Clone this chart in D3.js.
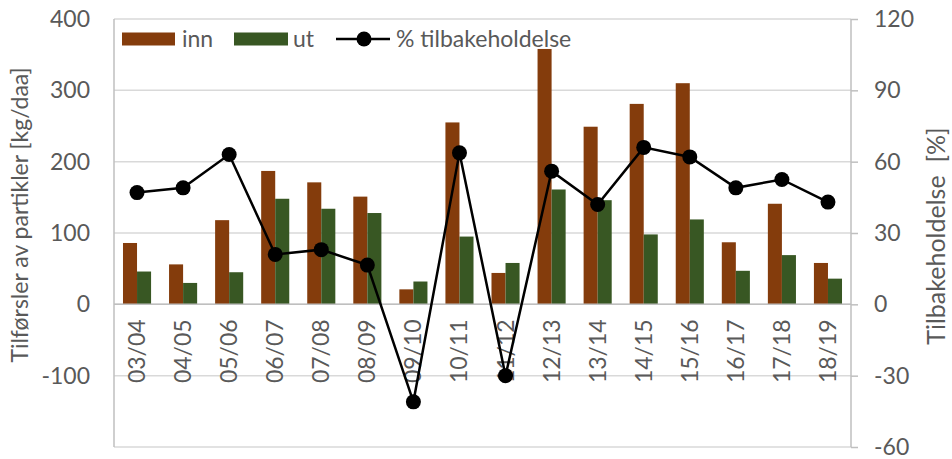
<!DOCTYPE html>
<html>
<head>
<meta charset="utf-8">
<script src="https://cdn.jsdelivr.net/npm/d3@7"></script>
<style>
  html, body { margin: 0; padding: 0; background: #fff; }
  svg { display: block; font-family: Lato, "Open Sans", sans-serif; }
</style>
</head>
<body>
<svg id="chart" width="952" height="459"></svg>
<script>
// Sesonger (hydrologiske år)
const categories = ["03/04","04/05","05/06","06/07","07/08","08/09","09/10","10/11",
                    "11/12","12/13","13/14","14/15","15/16","16/17","17/18","18/19"];
// Tilførsler av partikler, kg/daa
const inn = [86, 56, 118, 187, 171, 151, 21, 255, 44, 358, 249, 281, 310, 87, 141, 58];
const ut  = [46, 30, 45, 148, 134, 128, 32, 95, 58, 161, 146, 98, 119, 47, 69, 36];
// Tilbakeholdelse, %
const tilbakeholdelse = [47, 49, 63, 21, 23, 16.5, -41, 63.7, -30, 56, 42, 66, 62, 49, 52.5, 43];

const leftTicks  = [400, 300, 200, 100, 0, -100];
const gridValues = [400, 300, 200, 100, 0, -100, -200];
const rightTicks = [120, 90, 60, 30, 0, -30, -60];

const seriesNames = ["inn", "ut"];
const seriesValues = { inn: inn, ut: ut };
const colors = { inn: "#843C0C", ut: "#385723" };

const svg = d3.select("#chart");
const plot = { left: 114, right: 851, top: 19, bottom: 447 };
const textColor = "#595959";
const fontSize = 23;
const fontFamily = "Lato, 'Open Sans', sans-serif";
const fmt = d => String(d);   // vanlig bindestrek som minustegn

const x = d3.scaleBand().domain(categories).range([plot.left, plot.right]).padding(0);
const x1 = d3.scaleBand().domain(seriesNames).range([0, x.bandwidth()])
  .paddingInner(0).paddingOuter(0.64);
const yL = d3.scaleLinear().domain([-200, 400]).range([plot.bottom, plot.top]);
const yR = d3.scaleLinear().domain([-60, 120]).range([plot.bottom, plot.top]);

function styleText(sel) {
  sel.attr("fill", textColor).style("font-size", fontSize + "px").style("font-family", fontFamily);
}

// Rutenett
svg.append("g").selectAll("line").data(gridValues).join("line")
  .attr("x1", plot.left).attr("x2", plot.right)
  .attr("y1", d => yL(d)).attr("y2", d => yL(d))
  .attr("stroke", "#D9D9D9").attr("stroke-width", 1.5);

// Venstre akse
const gL = svg.append("g").attr("transform", `translate(${plot.left},0)`)
  .call(d3.axisLeft(yL).tickValues(leftTicks).tickFormat(fmt).tickSize(0).tickPadding(24));
gL.select(".domain").remove();
gL.selectAll("text").call(styleText);
svg.append("line").attr("x1", plot.left).attr("x2", plot.left)
  .attr("y1", plot.top).attr("y2", plot.bottom)
  .attr("stroke", "#BFBFBF").attr("stroke-width", 1.5);

// Høyre akse
const gR = svg.append("g").attr("transform", `translate(${plot.right},0)`)
  .call(d3.axisRight(yR).tickValues(rightTicks).tickFormat(fmt).tickSize(7).tickPadding(16));
gR.select(".domain").attr("stroke", "#BFBFBF").attr("stroke-width", 1.5)
  .attr("d", `M0,${plot.top}V${plot.bottom}`);
gR.selectAll(".tick line").attr("stroke", "#BFBFBF").attr("stroke-width", 1.5);
gR.selectAll("text").call(styleText);

// Søyler
const groups = svg.append("g").selectAll("g").data(categories).join("g")
  .attr("transform", d => `translate(${x(d)},0)`);
groups.selectAll("rect")
  .data((d, i) => seriesNames.map(s => ({ s, v: seriesValues[s][i] })))
  .join("rect")
  .attr("x", d => x1(d.s))
  .attr("width", x1.bandwidth())
  .attr("y", d => yL(Math.max(0, d.v)))
  .attr("height", d => Math.abs(yL(d.v) - yL(0)))
  .attr("fill", d => colors[d.s]);

// Kategoriakse (null-linje)
svg.append("line").attr("x1", plot.left).attr("x2", plot.right)
  .attr("y1", yL(0)).attr("y2", yL(0))
  .attr("stroke", "#BFBFBF").attr("stroke-width", 1.5);

// Kategorietiketter
svg.append("g").selectAll("text").data(categories).join("text")
  .attr("transform", d => `translate(${x(d) + x.bandwidth() / 2 + 8},${yL(0) + 15}) rotate(-90)`)
  .attr("text-anchor", "end")
  .call(styleText)
  .text(d => d);

// Linje for tilbakeholdelse
const cx = (d, i) => x(categories[i]) + x.bandwidth() / 2;
const line = d3.line().x(cx).y(d => yR(d));
svg.append("path").datum(tilbakeholdelse)
  .attr("d", line).attr("fill", "none")
  .attr("stroke", "#000").attr("stroke-width", 2.5);
svg.append("g").selectAll("circle").data(tilbakeholdelse).join("circle")
  .attr("cx", cx).attr("cy", d => yR(d)).attr("r", 7.5).attr("fill", "#000");

// Tegnforklaring
const lg = svg.append("g");
const legendY = 39;
lg.append("rect").attr("x", 122).attr("y", legendY - 6.5).attr("width", 53).attr("height", 13)
  .attr("fill", colors.inn);
lg.append("text").attr("x", 182).attr("y", legendY).attr("dy", "0.35em")
  .call(styleText).text("inn");
lg.append("rect").attr("x", 234).attr("y", legendY - 6.5).attr("width", 54).attr("height", 13)
  .attr("fill", colors.ut);
lg.append("text").attr("x", 293).attr("y", legendY).attr("dy", "0.35em")
  .call(styleText).text("ut");
lg.append("line").attr("x1", 336).attr("x2", 390).attr("y1", legendY).attr("y2", legendY)
  .attr("stroke", "#000").attr("stroke-width", 2.5);
lg.append("circle").attr("cx", 364).attr("cy", legendY).attr("r", 7.5).attr("fill", "#000");
lg.append("text").attr("x", 396).attr("y", legendY).attr("dy", "0.35em")
  .call(styleText).text("% tilbakeholdelse");

// Aksetitler
svg.append("text")
  .attr("transform", `translate(20,215) rotate(-90)`)
  .attr("text-anchor", "middle").attr("dy", "0.35em")
  .call(styleText)
  .text("Tilførsler av partikler [kg/daa]");
svg.append("text")
  .attr("transform", `translate(936,236) rotate(-90)`)
  .attr("text-anchor", "middle").attr("dy", "0.35em")
  .call(styleText)
  .style("font-size", "25px")
  .style("white-space", "pre")
  .text("Tilbakeholdelse  [%]");
</script>
</body>
</html>
